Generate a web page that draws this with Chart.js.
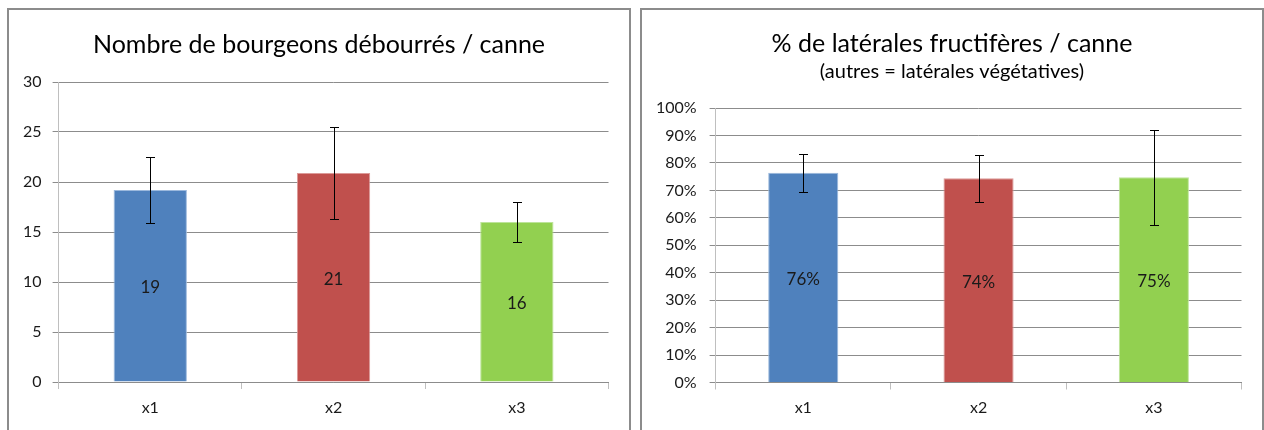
<!DOCTYPE html>
<html>
<head>
<meta charset="utf-8">
<script src="https://cdn.jsdelivr.net/npm/chart.js@4.4.1/dist/chart.umd.min.js"></script>
<style>
  body { margin: 0; background: #fff; width: 1264px; height: 430px; overflow: hidden; position: relative; }
  .panel { position: absolute; top: 8px; width: 620px; height: 430px; border: 2px solid #8c8c8c; border-bottom: none; }
  #p1 { left: 7px; }
  #p2 { left: 640px; }
  canvas { position: absolute; left: 0; top: 0; }
</style>
</head>
<body>
<div class="panel" id="p1"><canvas id="budChart" width="620" height="420"></canvas></div>
<div class="panel" id="p2"><canvas id="fruitChart" width="620" height="420"></canvas></div>
<script>
// data
const categories = ['x1', 'x2', 'x3'];
const barColors = ['#4f81bd', '#c0504d', '#92d050'];
const edgeColors = ['#9cb9dd', '#dc9a98', '#bde49a'];

const budValues = [19.2, 20.9, 16.0];
const budErrors = [3.3, 4.6, 2.0];
const budTicks = [0, 5, 10, 15, 20, 25, 30];

const fruitValues = [76.4, 74.4, 74.8];
const fruitErrors = [7.0, 8.6, 17.3];
const fruitTicks = [0, 10, 20, 30, 40, 50, 60, 70, 80, 90, 100];

const FONT = 'Lato, "Open Sans", sans-serif';

// error bars drawn through the scales
const errorBars = {
    id: 'errorBars',
    afterDatasetsDraw(chart, args, opts) {
        const ctx = chart.ctx;
        const xs = chart.scales.x, ys = chart.scales.y;
        const vals = chart.data.datasets[0].data;
        ctx.save();
        ctx.strokeStyle = '#000';
        ctx.lineWidth = 1;
        vals.forEach((v, i) => {
            const e = opts.errors[i];
            const px = Math.round(xs.getPixelForValue(i)) + 0.5;
            const top = Math.round(ys.getPixelForValue(v + e)) + 0.5;
            const bot = Math.round(ys.getPixelForValue(v - e)) + 0.5;
            ctx.beginPath();
            ctx.moveTo(px, top); ctx.lineTo(px, bot);
            ctx.moveTo(px - 4.5, top); ctx.lineTo(px + 4.5, top);
            ctx.moveTo(px - 4.5, bot); ctx.lineTo(px + 4.5, bot);
            ctx.stroke();
        });
        ctx.restore();
    }
};

// value labels in the middle of each bar
const barLabels = {
    id: 'barLabels',
    afterDatasetsDraw(chart, args, opts) {
        const ctx = chart.ctx;
        const meta = chart.getDatasetMeta(0);
        ctx.save();
        ctx.font = '17px ' + FONT;
        ctx.fillStyle = '#1a1a1a';
        ctx.textAlign = 'center';
        ctx.textBaseline = 'middle';
        meta.data.forEach((bar, i) => {
            const c = bar.getCenterPoint();
            ctx.fillText(opts.format(chart.data.datasets[0].data[i]), c.x, c.y + 2);
        });
        ctx.restore();
    }
};

function makeChart(id, cfg) {
    return new Chart(document.getElementById(id), {
        type: 'bar',
        data: {
            labels: categories,
            datasets: [{
                data: cfg.values,
                backgroundColor: barColors,
                borderColor: edgeColors,
                borderWidth: 1,
                categoryPercentage: 1,
                barPercentage: 0.4
            }]
        },
        plugins: [errorBars, barLabels],
        options: {
            responsive: false,
            animation: false,
            events: [],
            layout: { padding: 0 },
            plugins: {
                legend: { display: false },
                tooltip: { enabled: false },
                title: cfg.title,
                subtitle: cfg.subtitle || { display: false },
                errorBars: { errors: cfg.errors },
                barLabels: { format: cfg.format }
            },
            scales: {
                x: {
                    afterFit: s => { s.height = cfg.xHeight; },
                    grid: { drawOnChartArea: false, drawTicks: true, tickLength: 7, color: '#bfbfbf', offset: true },
                    border: { color: '#8c8c8c' },
                    ticks: { padding: 9, color: '#1a1a1a', font: { family: FONT, size: 16 } }
                },
                y: {
                    min: cfg.ticks[0],
                    max: cfg.ticks[cfg.ticks.length - 1],
                    afterFit: s => { s.width = cfg.yWidth; },
                    afterBuildTicks: s => { s.ticks = cfg.ticks.map(v => ({ value: v })); },
                    grid: { color: '#8c8c8c', tickLength: 6 },
                    border: { color: '#bfbfbf' },
                    ticks: {
                        padding: cfg.tickPad,
                        color: '#1a1a1a',
                        font: { family: FONT, size: 16 },
                        callback: cfg.tickFormat
                    }
                },
                // empty right margin so the title stays centred on the panel
                spacer: {
                    type: 'linear',
                    position: 'right',
                    afterFit: s => { s.width = 20.5; },
                    grid: { display: false },
                    border: { display: false },
                    ticks: { display: false }
                }
            }
        }
    });
}

makeChart('budChart', {
    values: budValues,
    errors: budErrors,
    ticks: budTicks,
    format: v => String(Math.round(v)),
    tickFormat: v => v,
    yWidth: 49.6,
    xHeight: 48,
    tickPad: 11,
    title: {
        display: true,
        text: 'Nombre de bourgeons débourrés / canne',
        color: '#000',
        font: { family: FONT, size: 25, weight: 'normal', lineHeight: 1.2 },
        padding: { top: 20, bottom: 22 }
    }
});

makeChart('fruitChart', {
    values: fruitValues,
    errors: fruitErrors,
    ticks: fruitTicks,
    format: v => Math.round(v) + '%',
    tickFormat: v => v + '%',
    yWidth: 73.6,
    xHeight: 47.5,
    tickPad: 13,
    title: {
        display: true,
        text: '% de latérales fructifères / canne',
        color: '#000',
        font: { family: FONT, size: 25, weight: 'normal', lineHeight: 1.2 },
        padding: { top: 19, bottom: 0 }
    },
    subtitle: {
        display: true,
        text: '(autres = latérales végétatives)',
        color: '#000',
        font: { family: FONT, size: 20, weight: 'normal', lineHeight: 1.2 },
        padding: { top: 1, bottom: 24 }
    }
});
</script>
</body>
</html>
